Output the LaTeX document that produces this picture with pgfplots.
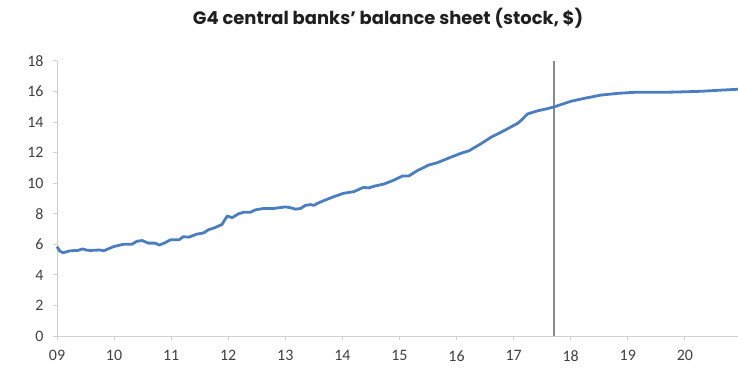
\documentclass[border=0pt]{standalone}
\usepackage{fontspec}
\setmainfont{Carlito}
\newfontfamily\titlefont{Poppins}
\usepackage{pgfplots}
\pgfplotsset{compat=1.18}
\definecolor{lineblue}{HTML}{4A7EC0}
\definecolor{axgray}{HTML}{D0D0D0}
\definecolor{txtgray}{HTML}{404040}
\definecolor{vgray}{HTML}{8A8A8A}
\begin{document}
\begin{tikzpicture}[x=1bp,y=1bp]
\useasboundingbox (0,0) rectangle (738,367);
\node[font=\titlefont\bfseries\fontsize{18}{21}\selectfont, text=black!88] at (388,349) {G4 central banks’ balance sheet (stock, \$)};
\begin{axis}[
  at={(57bp,31bp)}, anchor=south west,
  scale only axis, width=681bp, height=275bp,
  xmin=2009, xmax=2020.93, ymin=0, ymax=18,
  axis lines=left, axis line style={axgray, line width=1bp, -},
  xtick={2009,...,2020},
  xticklabels={09,10,11,12,13,14,15,16,17,18,19,20},
  ytick={0,2,...,18},
  tick style={axgray, line width=1bp},
  tick align=outside, major tick length=4bp,
  /pgf/number format/assume math mode=true,
  ticklabel style={font=\fontsize{16}{18}\selectfont, text=txtgray},
  xticklabel style={yshift=-7bp},
  yticklabel style={xshift=-6bp},
  clip=false,
]
\addplot[color=vgray, line width=2bp] coordinates {(2017.70,0) (2017.70,18)};
\addplot[color=lineblue, line width=2.8bp, line join=round] coordinates {
(2009.00,5.85) (2009.05,5.55) (2009.11,5.45) (2009.23,5.58) (2009.36,5.6) (2009.45,5.7) (2009.52,5.62)
(2009.58,5.6) (2009.75,5.63) (2009.82,5.58) (2009.99,5.85) (2010.16,6.0) (2010.31,6.0)
(2010.40,6.2) (2010.49,6.25) (2010.60,6.08) (2010.72,6.08) (2010.79,5.95) (2010.89,6.1)
(2010.99,6.3) (2011.14,6.3) (2011.21,6.5) (2011.31,6.47) (2011.45,6.67) (2011.57,6.75)
(2011.65,6.95) (2011.77,7.1) (2011.89,7.3) (2011.98,7.85) (2012.07,7.75) (2012.18,8.0)
(2012.27,8.1) (2012.39,8.1) (2012.47,8.25) (2012.62,8.35) (2012.80,8.35) (2013.00,8.45)
(2013.09,8.4) (2013.18,8.3) (2013.27,8.35) (2013.35,8.55) (2013.44,8.6) (2013.50,8.55)
(2013.56,8.68) (2013.70,8.9) (2013.85,9.12) (2014.02,9.34) (2014.20,9.45) (2014.37,9.73)
(2014.46,9.69) (2014.55,9.8) (2014.73,9.95) (2014.90,10.2) (2015.05,10.47) (2015.16,10.47)
(2015.31,10.82) (2015.51,11.19) (2015.66,11.34) (2015.89,11.69) (2016.07,11.95) (2016.22,12.13)
(2016.42,12.57) (2016.60,13.0) (2016.83,13.44) (2017.07,13.92) (2017.15,14.18) (2017.24,14.53)
(2017.42,14.74) (2017.59,14.88) (2017.71,15.0) (2018.00,15.36) (2018.23,15.55) (2018.53,15.77)
(2018.82,15.88) (2019.11,15.95) (2019.64,15.95) (2020.05,15.99) (2020.30,16.02) (2020.57,16.08) (2020.93,16.15)
};
\end{axis}
\end{tikzpicture}
\end{document}
